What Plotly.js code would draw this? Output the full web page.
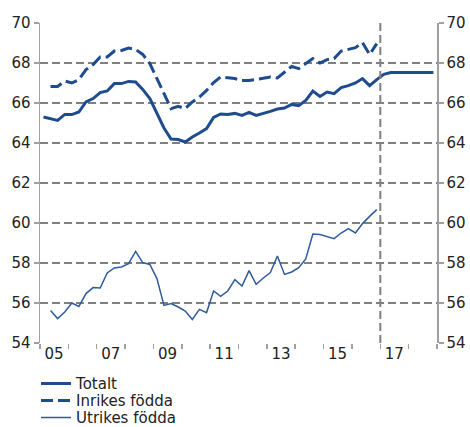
<!DOCTYPE html>
<html>
<head>
<meta charset="utf-8">
<script src="https://cdn.plot.ly/plotly-3.0.1.min.js"></script>
<style>html,body{margin:0;padding:0;background:#fff;}#chart{width:470px;height:427px;}</style>
</head>
<body>
<div id="chart"></div>
<script>
// Quarter start dates (points plotted at quarter middle)
const quartersTotal = [
 '2005-01','2005-04','2005-07','2005-10','2006-01','2006-04','2006-07','2006-10',
 '2007-01','2007-04','2007-07','2007-10','2008-01','2008-04','2008-07','2008-10',
 '2009-01','2009-04','2009-07','2009-10','2010-01','2010-04','2010-07','2010-10',
 '2011-01','2011-04','2011-07','2011-10','2012-01','2012-04','2012-07','2012-10',
 '2013-01','2013-04','2013-07','2013-10','2014-01','2014-04','2014-07','2014-10',
 '2015-01','2015-04','2015-07','2015-10','2016-01','2016-04','2016-07','2016-10',
 '2017-01','2017-04','2017-07','2017-10','2018-01','2018-04','2018-07','2018-10'];
const quartersGroups = [
 '2005-04','2005-07','2005-10','2006-01','2006-04','2006-07','2006-10',
 '2007-01','2007-04','2007-07','2007-10','2008-01','2008-04','2008-07','2008-10',
 '2009-01','2009-04','2009-07','2009-10','2010-01','2010-04','2010-07','2010-10',
 '2011-01','2011-04','2011-07','2011-10','2012-01','2012-04','2012-07','2012-10',
 '2013-01','2013-04','2013-07','2013-10','2014-01','2014-04','2014-07','2014-10',
 '2015-01','2015-04','2015-07','2015-10','2016-01','2016-04','2016-07','2016-10'];

const totalt = [65.30,65.22,65.13,65.43,65.42,65.55,66.05,66.22,
 66.52,66.60,66.97,66.97,67.08,67.05,66.68,66.22,
 65.47,64.75,64.20,64.17,64.05,64.30,64.50,64.72,
 65.28,65.45,65.42,65.48,65.38,65.53,65.38,65.47,
 65.58,65.70,65.75,65.93,65.87,66.13,66.60,66.33,
 66.55,66.47,66.77,66.87,67.00,67.22,66.87,67.17,
 67.43,67.52,67.53,67.53,67.53,67.53,67.52,67.52];

const inrikes = [66.83,66.83,67.10,67.00,67.17,67.67,67.92,
 68.30,68.30,68.60,68.63,68.75,68.68,68.43,67.97,
 67.22,66.55,65.72,65.83,65.72,66.05,66.30,66.63,
 67.02,67.30,67.25,67.22,67.13,67.13,67.18,67.25,
 67.30,67.25,67.55,67.83,67.72,67.97,68.22,68.00,
 68.17,68.22,68.60,68.68,68.77,69.02,68.42,68.97];

const utrikes = [55.63,55.22,55.55,56.00,55.83,56.47,56.77,
 56.75,57.50,57.75,57.80,57.97,58.58,58.02,57.93,
 57.22,55.88,55.97,55.80,55.60,55.18,55.68,55.52,
 56.60,56.33,56.60,57.17,56.85,57.62,56.93,57.25,
 57.52,58.35,57.43,57.55,57.77,58.20,59.45,59.42,
 59.33,59.22,59.50,59.72,59.50,59.97,60.33,60.67];

const seriesNames = ['Totalt', 'Inrikes födda', 'Utrikes födda'];
const yearLabelPos = ['2005-07-01','2007-07-01','2009-07-01','2011-07-01','2013-07-01','2015-07-01','2017-07-01'];
const yearLabels = ['05','07','09','11','13','15','17'];
const yearBoundaries = ['2005-01-01','2006-01-01','2007-01-01','2008-01-01','2009-01-01','2010-01-01','2011-01-01',
 '2012-01-01','2013-01-01','2014-01-01','2015-01-01','2016-01-01','2017-01-01','2018-01-01','2019-01-01'];
const forecastStart = '2017-01-01';

const FONT = 'DejaVu Sans, Verdana, sans-serif';
const GRID = '#808080';
const AXIS = '#a0a0a0';
const BLUE = '#1f4c8f';

const traces = [
 {x: quartersTotal, y: totalt, name: seriesNames[0], type: 'scatter', mode: 'lines',
  xperiod: 'M3', xperiodalignment: 'middle', legend: 'legend',
  line: {color: BLUE, width: 3}},
 {x: quartersGroups, y: inrikes, name: seriesNames[1], type: 'scatter', mode: 'lines',
  xperiod: 'M3', xperiodalignment: 'middle', legend: 'legend2',
  line: {color: BLUE, width: 3, dash: '12px,5px'}},
 {x: quartersGroups, y: utrikes, name: seriesNames[2], type: 'scatter', mode: 'lines',
  xperiod: 'M3', xperiodalignment: 'middle', legend: 'legend3',
  line: {color: '#2e5b9e', width: 1.5}},
 // carrier for the right-hand axis (invisible)
 {x: quartersTotal, y: totalt, yaxis: 'y2', type: 'scatter', mode: 'lines',
  xperiod: 'M3', xperiodalignment: 'middle', showlegend: false, hoverinfo: 'skip',
  opacity: 0, line: {width: 0}}
];

const yCommon = {
 range: [54, 70], dtick: 2, tick0: 54, fixedrange: true,
 ticks: 'outside', ticklen: 5, tickwidth: 1.5, tickcolor: AXIS,
 showline: true, linecolor: AXIS, linewidth: 1.5, zeroline: false,
 tickfont: {family: FONT, size: 15, color: '#222'}
};

function legendAt(yPaper) {
 return {x: -0.01, y: yPaper, xanchor: 'left', yanchor: 'top',
  font: {family: FONT, size: 15, color: '#222'}, bgcolor: 'rgba(0,0,0,0)'};
}

const layout = {
 width: 470, height: 427,
 margin: {l: 40, r: 33, t: 23, b: 84, autoexpand: false},
 paper_bgcolor: '#fff', plot_bgcolor: '#fff',
 showlegend: true,
 legend: legendAt(-0.0758),
 legend2: legendAt(-0.1289),
 legend3: legendAt(-0.1820),
 xaxis: {
  type: 'date', range: ['2005-01-01', '2019-01-01'], fixedrange: true,
  tickmode: 'array', tickvals: yearLabelPos, ticktext: yearLabels, ticks: '',
  showgrid: false, zeroline: false, showline: false,
  tickfont: {family: FONT, size: 15, color: '#222'},
  minor: {tickmode: 'array', tickvals: yearBoundaries, ticks: 'outside', ticklen: 5,
   tickwidth: 1.5, tickcolor: AXIS, showgrid: false}
 },
 yaxis: Object.assign({}, yCommon, {
  side: 'left', showgrid: true, gridcolor: GRID, gridwidth: 2, griddash: '8px,4px'
 }),
 yaxis2: Object.assign({}, yCommon, {
  side: 'right', overlaying: 'y', showgrid: false, anchor: 'x'
 }),
 shapes: [{type: 'line', xref: 'x', yref: 'paper', x0: forecastStart, x1: forecastStart, y0: 0, y1: 1,
  line: {color: GRID, width: 2, dash: '8px,4px'}}]
};

Plotly.newPlot('chart', traces, layout, {staticPlot: true, displayModeBar: false});
</script>
</body>
</html>
